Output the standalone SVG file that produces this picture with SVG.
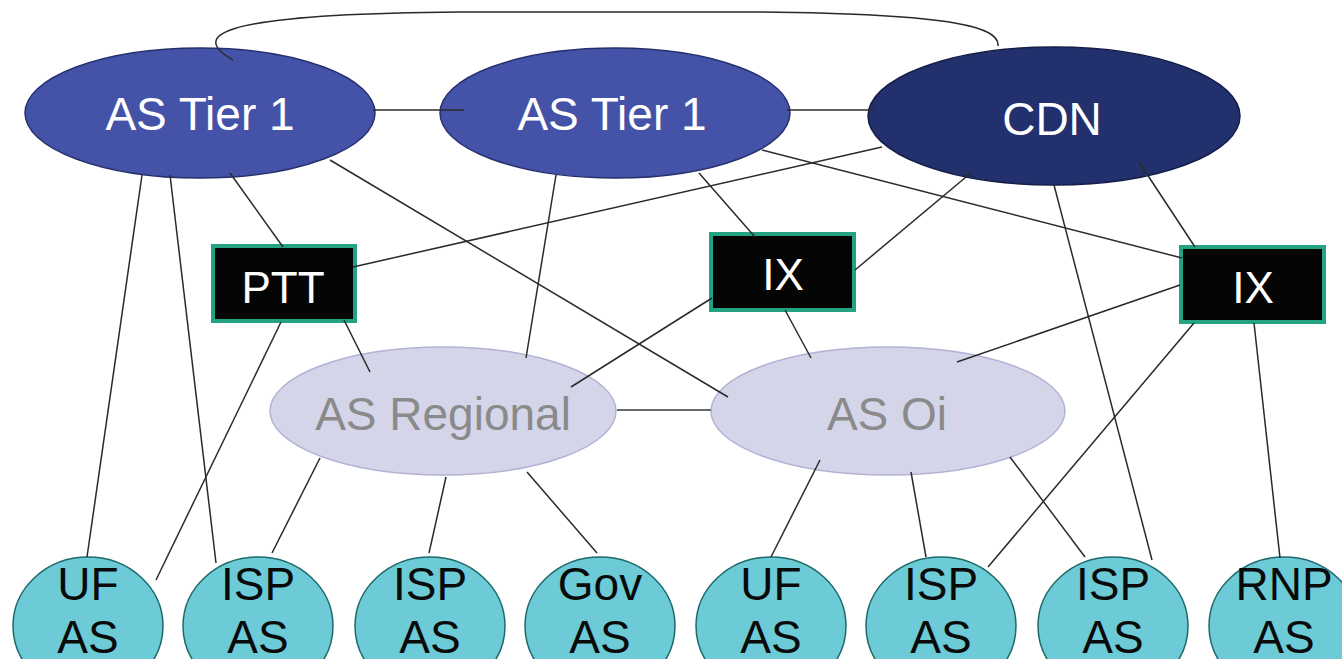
<svg xmlns="http://www.w3.org/2000/svg" width="1342" height="659" viewBox="0 0 1342 659">
<style>
.t1{fill:#4453a8;stroke:#26306e;stroke-width:1.5}
.cdn{fill:#22306e;stroke:#151d48;stroke-width:1.5}
.reg{fill:#d5d5ea;stroke:#b2b2d4;stroke-width:1.5}
.leaf{fill:#6ccbd6;stroke:#1e6a6a;stroke-width:1.5}
.box{fill:#050505;stroke:#23a383;stroke-width:4}
.wt{font-family:"Liberation Sans",Arial,sans-serif;font-size:46px;fill:#ffffff;text-anchor:middle}
.gt{font-family:"Liberation Sans",Arial,sans-serif;font-size:46px;fill:#8a8a8a;text-anchor:middle}
.bt{font-family:"Liberation Sans",Arial,sans-serif;font-size:46px;fill:#0a0a0a;text-anchor:middle}
.c{fill:none;stroke:#2a2a2a;stroke-width:1.5}
.cg{fill:none;stroke:#6a6a6a;stroke-width:2}
</style>
<rect width="1342" height="659" fill="#ffffff"/>
<g id="tier1a"><ellipse class="t1" cx="200" cy="113" rx="175" ry="65"/><text class="wt" x="200" y="130">AS Tier 1</text></g>
<g id="tier1b"><ellipse class="t1" cx="615" cy="113" rx="175" ry="65"/><text class="wt" x="612" y="130">AS Tier 1</text></g>
<g id="cdn"><ellipse class="cdn" cx="1054" cy="116" rx="186" ry="69"/><text class="wt" x="1052" y="135">CDN</text></g>
<g id="ptt"><rect class="box" x="213" y="246" width="142" height="75"/><text class="wt" x="283" y="303" style="font-size:44px">PTT</text></g>
<g id="ix1"><rect class="box" x="711" y="234" width="143" height="76"/><text class="wt" x="783" y="290" style="font-size:44px">IX</text></g>
<g id="ix2"><rect class="box" x="1181" y="247" width="143" height="75"/><text class="wt" x="1253" y="303" style="font-size:44px">IX</text></g>
<g id="regional"><ellipse class="reg" cx="443" cy="411" rx="173" ry="64"/><text class="gt" x="443" y="430">AS Regional</text></g>
<g id="oi"><ellipse class="reg" cx="888" cy="411" rx="177" ry="64"/><text class="gt" x="887" y="430">AS Oi</text></g>
<g id="leaf1"><ellipse class="leaf" cx="88" cy="626" rx="75" ry="69"/><text class="bt" x="88" y="600">UF</text><text class="bt" x="88" y="653">AS</text></g>
<g id="leaf2"><ellipse class="leaf" cx="258" cy="626" rx="75" ry="69"/><text class="bt" x="258" y="600">ISP</text><text class="bt" x="258" y="653">AS</text></g>
<g id="leaf3"><ellipse class="leaf" cx="430" cy="626" rx="75" ry="69"/><text class="bt" x="430" y="600">ISP</text><text class="bt" x="430" y="653">AS</text></g>
<g id="leaf4"><ellipse class="leaf" cx="600" cy="626" rx="75" ry="69"/><text class="bt" x="600" y="600">Gov</text><text class="bt" x="600" y="653">AS</text></g>
<g id="leaf5"><ellipse class="leaf" cx="771" cy="626" rx="75" ry="69"/><text class="bt" x="771" y="600">UF</text><text class="bt" x="771" y="653">AS</text></g>
<g id="leaf6"><ellipse class="leaf" cx="941" cy="626" rx="75" ry="69"/><text class="bt" x="941" y="600">ISP</text><text class="bt" x="941" y="653">AS</text></g>
<g id="leaf7"><ellipse class="leaf" cx="1113" cy="626" rx="75" ry="69"/><text class="bt" x="1113" y="600">ISP</text><text class="bt" x="1113" y="653">AS</text></g>
<g id="leaf8"><ellipse class="leaf" cx="1284" cy="626" rx="75" ry="69"/><text class="bt" x="1284" y="600">RNP</text><text class="bt" x="1284" y="653">AS</text></g>
<g id="connectors">
<path class="c" d="M233,60 C195,38 200,14 460,12 L760,12 C960,14 1000,28 998,46"/>
<path class="c" d="M373,110 L464,110"/>
<path class="c" d="M787,110 L875,110"/>
<path class="c" d="M230,173 L283,247"/>
<path class="c" d="M330,160 L728,397"/>
<path class="c" d="M142,175 L87,557"/>
<path class="c" d="M170,175 L216,563"/>
<path class="c" d="M882,147 L353,267"/>
<path class="c" d="M556,175 L526,358"/>
<path class="c" d="M699,173 L755,237"/>
<path class="c" d="M762,150 L1182,258"/>
<path class="c" d="M972,172 L855,270"/>
<path class="c" d="M1139,162 L1195,247"/>
<path class="c" d="M1054,185 L1152,560"/>
<path class="c" d="M281,322 L156,580"/>
<path class="c" d="M344,320 L370,372"/>
<path class="c" d="M712,298 L571,387"/>
<path class="c" d="M785,310 L811,358"/>
<path class="c" d="M1180,285 L957,362"/>
<path class="c" d="M1194,323 L988,567"/>
<path class="c" d="M1254,323 L1280,558"/>
<path class="cg" d="M617,410 L711,410"/>
<path class="c" d="M320,458 L272,553"/>
<path class="c" d="M446,477 L429,553"/>
<path class="c" d="M527,472 L597,553"/>
<path class="c" d="M820,460 L771,557"/>
<path class="c" d="M911,472 L926,557"/>
<path class="c" d="M1010,457 L1085,557"/>
</g>
</svg>
